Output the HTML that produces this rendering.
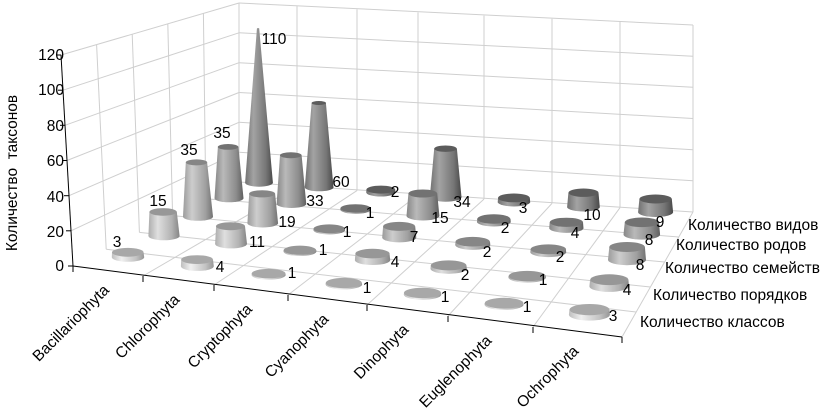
<!DOCTYPE html>
<html><head><meta charset="utf-8"><style>
html,body{margin:0;padding:0;background:#fff;}
svg{display:block;font-family:"Liberation Sans",Arial,sans-serif;}
</style></head><body>
<svg id="s" width="820" height="412" viewBox="0 0 820 412" xmlns="http://www.w3.org/2000/svg">
<defs id="d"></defs>
<g id="g"></g>
<g font-size="15.5" fill="#000">
<text x="64" y="60" text-anchor="end">120</text>
<text x="64" y="95" text-anchor="end">100</text>
<text x="64" y="131" text-anchor="end">80</text>
<text x="64" y="166" text-anchor="end">60</text>
<text x="64" y="202" text-anchor="end">40</text>
<text x="64" y="237" text-anchor="end">20</text>
<text x="64" y="271" text-anchor="end">0</text>
<text transform="translate(17,173) rotate(-90)" text-anchor="middle" xml:space="preserve">Количество  таксонов</text>
<text x="688" y="230">Количество видов</text>
<text x="676" y="250">Количество родов</text>
<text x="665" y="273">Количество семейств</text>
<text x="653" y="300">Количество порядков</text>
<text x="640" y="327">Количество классов</text>
</g>
<g id="lab" font-size="15.5" fill="#000"></g>
</svg>
<script>
var fx=[73,143,214,288,367,448,533,622], fy=[266,276,285,295,305,316,327,337];
var bx=[239,297,357,418,484,552,620,693];
function interp(arr,u){var i=Math.min(Math.floor(u),6);var t=u-i;return arr[i]+(arr[i+1]-arr[i])*t;}
function F(u,v){var t=v/5;var x0=interp(fx,u),y0=interp(fy,u);var x1=interp(bx,u),y1=182+30*u/7;return [x0+(x1-x0)*t,y0+(y1-y0)*t];}
function V(u,v){var a=u/7,b=v/5;
 var FL=[-12,-211],FR=[4,-222],BL=[0,-179],BR=[0,-187];
 function L(p,q,t){return [p[0]+(q[0]-p[0])*t,p[1]+(q[1]-p[1])*t];}
 return L(L(FL,FR,a),L(BL,BR,a),b);}
function P(u,v,h){var f=F(u,v),w=V(u,v);return [f[0]+w[0]*h/120,f[1]+w[1]*h/120];}
var s='';
function line(p,q,c,w){s+='<line x1="'+p[0].toFixed(1)+'" y1="'+p[1].toFixed(1)+'" x2="'+q[0].toFixed(1)+'" y2="'+q[1].toFixed(1)+'" stroke="'+c+'" stroke-width="'+(w||1)+'"/>';}
var gc='#cfcfcf';
for(var h=20;h<=120;h+=20){line(P(0,0,h),P(0,5,h),gc);line(P(0,5,h),P(7,5,h),gc);}
for(var v=1;v<=5;v++)line(P(0,v,0),P(0,v,120),gc);
for(var u=1;u<=7;u++)line(P(u,5,0),P(u,5,120),gc);
for(var u=1;u<=7;u++)line(P(u,0,0),P(u,5,0),gc);
for(var v=1;v<=5;v++)line(P(0,v,0),P(7,v,0),gc);
line(P(0,0,0),P(0,0,120),'#000');
line(P(0,0,0),P(7,0,0),'#000');
for(var h=0;h<=120;h+=20){var p=P(0,0,h);line([p[0]-5,p[1]],p,'#000');}
for(var u=0;u<=7;u++){var p=P(u,0,0);line(p,[p[0],p[1]+6],'#000');}
var data=[[3,15,35,35,110],[4,11,19,33,60],[1,1,1,1,2],[1,4,7,15,34],[1,2,2,2,3],[1,1,2,4,10],[3,4,8,8,9]];
var base=[195,178,160,140,118];
var tops=['#a8a8a8','#979797','#868686','#727272','#5c5c5c'];
var offx=[4,8,10,9,7], offy=[-5,-9,-11,-12,-10];
var hf=[0.96,0.95,0.95,0.93,0.92];
var defs='';
function col(x){x=Math.max(0,Math.min(255,Math.round(x)));return 'rgb('+x+','+x+','+x+')';}
for(var k=0;k<5;k++){var c=base[k];
 defs+='<linearGradient id="gr'+k+'" x1="0" y1="0" x2="1" y2="0"><stop offset="0" stop-color="'+col(c-5)+'"/><stop offset="0.3" stop-color="'+col(c+45)+'"/><stop offset="0.75" stop-color="'+col(c)+'"/><stop offset="1" stop-color="'+col(c-45)+'"/></linearGradient>';}
document.getElementById('d').innerHTML=defs;
for(var v=4;v>=0;v--){for(var u=0;u<7;u++){var h=data[u][v];
 var B0=F(u+0.5,v+0.5);var B=[B0[0]+offx[v],B0[1]+offy[v]];
 var dx=F(u+1,v+0.5)[0]-F(u,v+0.5)[0];var rx=0.235*dx,ry=rx*0.28;
 var w=V(u+0.5,v+0.5);var hh=h/120*hf[v];var T=[B[0]+w[0]*hh,B[1]+w[1]*hh];
 var rt=rx*(1-h/120),rty=rt*0.28;
 s+='<path d="M'+(B[0]-rx).toFixed(1)+','+B[1].toFixed(1)+' L'+(T[0]-rt).toFixed(1)+','+T[1].toFixed(1)+' L'+(T[0]+rt).toFixed(1)+','+T[1].toFixed(1)+' L'+(B[0]+rx).toFixed(1)+','+B[1].toFixed(1)+' A'+rx.toFixed(1)+','+ry.toFixed(1)+' 0 0 1 '+(B[0]-rx).toFixed(1)+','+B[1].toFixed(1)+' Z" fill="url(#gr'+v+')"/>';
 if(rt>0.3)s+='<ellipse cx="'+T[0].toFixed(1)+'" cy="'+T[1].toFixed(1)+'" rx="'+rt.toFixed(1)+'" ry="'+rty.toFixed(1)+'" fill="'+tops[v]+'"/>';
}}
var cats=['Bacillariophyta','Chlorophyta','Cryptophyta','Cyanophyta','Dinophyta','Euglenophyta','Ochrophyta'];
for(var u=0;u<7;u++){var p=F(u+0.5,0);var x=p[0]+2,y=p[1]+20;
 s+='<text font-size="15.5" text-anchor="end" transform="translate('+x.toFixed(1)+','+y.toFixed(1)+') rotate(-45)">'+cats[u]+'</text>';}
document.getElementById('g').innerHTML=s;
var L=[
[[117,242,'3'],[158,201,'15'],[189,150,'35'],[222,133,'35'],[274,39,'110']],
[[220,267,'4'],[257,242,'11'],[287,222,'19'],[315,201,'33'],[341,182,'60']],
[[292,273,'1'],[323,250,'1'],[347,232,'1'],[370,213,'1'],[395,192,'2']],
[[367,288,'1'],[395,262,'4'],[414,237,'7'],[440,218,'15'],[462,202,'34']],
[[445,297,'1'],[465,275,'2'],[487,252,'2'],[505,228,'2'],[523,208,'3']],
[[527,307,'1'],[543,280,'1'],[560,257,'2'],[575,233,'4'],[592,215,'10']],
[[613,316,'3'],[627,290,'4'],[640,265,'8'],[649,240,'8'],[660,222,'9']]];
var t='';
L.forEach(function(r){r.forEach(function(a){t+='<text x="'+a[0]+'" y="'+(a[1]+5)+'" text-anchor="middle">'+a[2]+'</text>';});});
document.getElementById('lab').innerHTML=t;
</script>
</body></html>
